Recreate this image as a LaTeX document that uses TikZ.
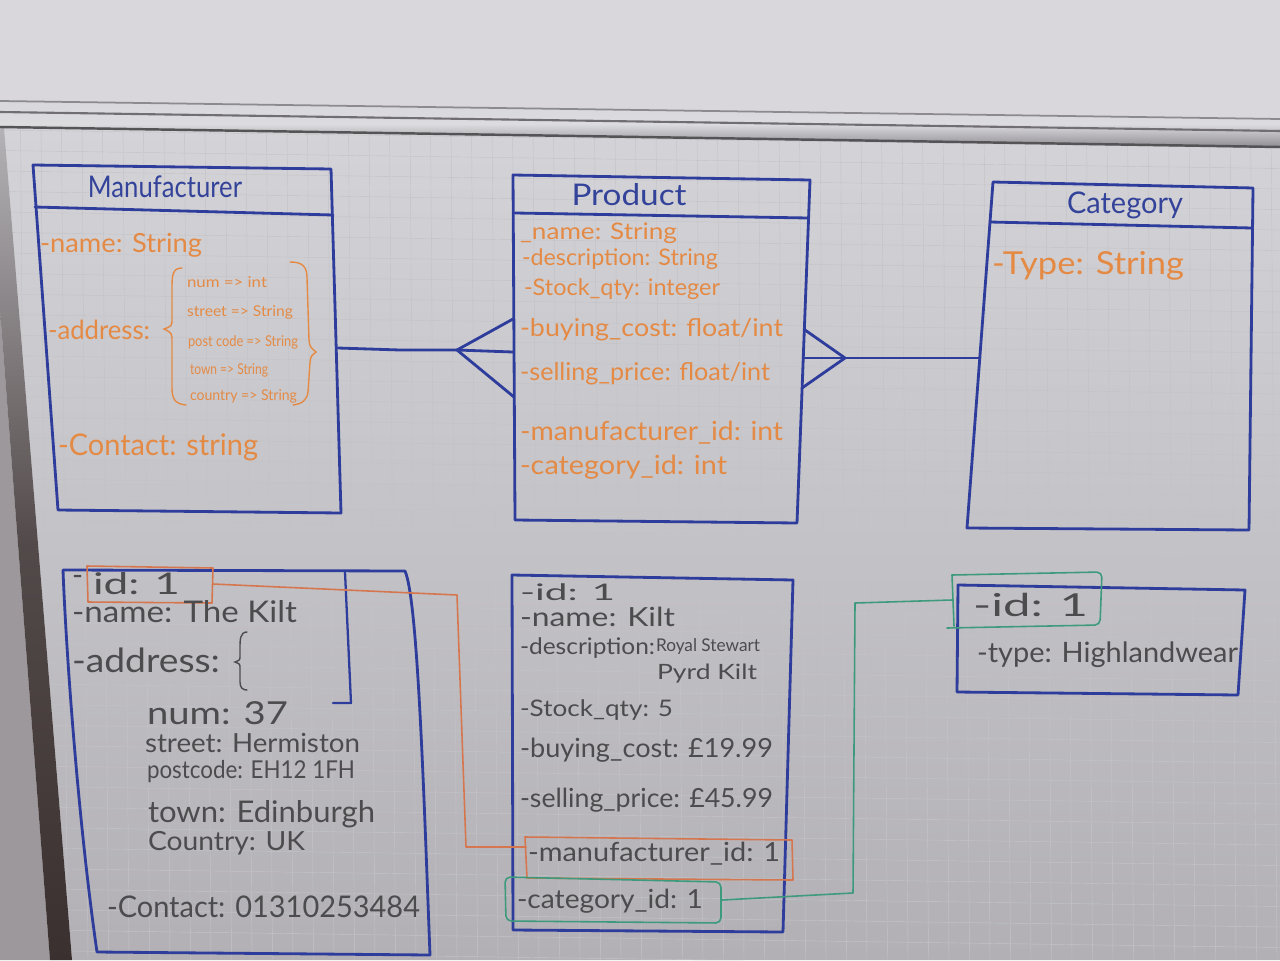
\documentclass[tikz,border=0pt]{standalone}
\usepackage{fontspec}
\usepackage{graphicx}
\setmainfont{Lato}
\definecolor{penblue}{HTML}{2E3C9C}
\definecolor{inkblue}{HTML}{34439A}
\definecolor{penorange}{HTML}{E48A45}
\definecolor{lineorange}{HTML}{D5764E}
\definecolor{pengreen}{HTML}{3E9A7C}
\definecolor{pengrey}{HTML}{4C4C4F}
\definecolor{boardtop}{HTML}{D4D4D8}
\definecolor{boardbot}{HTML}{B2B0B4}
\definecolor{wall}{HTML}{D9D7DC}
\definecolor{sidewall}{HTML}{9C989B}
\definecolor{frameband}{HTML}{3A302F}
\definecolor{frametop}{HTML}{B4B2B6}
\definecolor{gridline}{HTML}{C3C3C8}
\definecolor{railhi}{HTML}{D8D7DB}
\definecolor{raillo}{HTML}{8C8A8F}
\newlength\pxu
\setlength\pxu{0.02cm}
% stretch a piece of text horizontally to a given width (in pixel units)
\newcommand\fitto[2]{\resizebox{#1\pxu}{\height}{#2}}
\newcommand\fs[1]{\fontsize{#1}{#1}\selectfont}
\begin{document}
\begin{tikzpicture}[x=0.02cm,y=-0.02cm,
  pen/.style={draw=penblue,line width=1.6pt,line join=round,line cap=round},
  orangeline/.style={draw=lineorange,line width=0.9pt,line join=round,line cap=round},
  greenline/.style={draw=pengreen,line width=0.9pt,line join=round,line cap=round},
  txt/.style={anchor=west,inner sep=0pt,outer sep=0pt},
  attr/.style={txt,text=penorange,font=\fs{13}},
  small/.style={txt,text=penorange,font=\fs{8.5}},
  ink/.style={txt,text=pengrey,font=\fs{14}},
  title/.style={inner sep=0pt,text=inkblue,font=\fs{17}}]

\useasboundingbox (0,0) rectangle (1280,960);

% wall, board surface and frame
\fill[wall] (0,0) rectangle (1280,960);
\shade[top color=boardtop,bottom color=boardbot]
  (4,128) -- (1280,147) -- (1280,960) -- (72,960) -- cycle;
\begin{scope}
  \clip (4,128) -- (1280,147) -- (1280,960) -- (72,960) -- cycle;
  \foreach \i in {0,...,64}
    \draw[gridline,line width=0.25pt] (\i*20.5,120) -- (\i*20.5+6,960);
  \foreach \j in {0,...,42}
    \draw[gridline,line width=0.25pt] (0,130+\j*20.5) -- (1280,148+\j*20.5);
\end{scope}
\fill[sidewall] (0,310) -- (50,960) -- (0,960) -- cycle;
\shade[top color=frametop,bottom color=frameband,middle color=frameband!80!frametop]
  (-14,128) -- (4,128) -- (72,960) -- (50,960) -- cycle;
\shade[top color=railhi,bottom color=raillo,middle color=railhi!90!white]
  (0,100) -- (1280,118) -- (1280,148) -- (0,128) -- cycle;
\draw[raillo,line width=1pt] (0,101) -- (1280,119);
\draw[raillo!80!black,line width=1.2pt] (0,112) -- (1280,131);
\draw[raillo!60!black,line width=1.4pt] (0,127) -- (1280,147);

% ---------------- class: Manufacturer ----------------
\coordinate (m1) at (33,165); \coordinate (m2) at (331,169);
\coordinate (m3) at (341,513); \coordinate (m4) at (58,510);
\coordinate (ms1) at (35,207); \coordinate (ms2) at (333,215);
\draw[pen] (m1) -- (m2) -- (m3) -- (m4) -- cycle;
\draw[pen] (ms1) -- (ms2);
\node[title] (mtitle) at (165,187) {\fitto{154}{Manufacturer}};
\node[attr,font=\fs{15}] (mname) at (40,245) {\fitto{162}{-name: String}};
\node[attr,font=\fs{15}] (maddr) at (48,330) {\fitto{102}{-address:}};
\draw[penorange,line width=0.8pt,line cap=round]
  (182,268) .. controls (172,268) and (172,276) .. (172,290) -- (172,318)
  .. controls (172,326) .. (164,329) .. controls (172,333) .. (172,342)
  -- (172,388) .. controls (172,400) and (176,404) .. (186,405);
\node[small] (mnum) at (187,282) {\fitto{80}{num => int}};
\node[small] (mstreet) at (187,312) {\fitto{106}{street => String}};
\node[small] (mpost) at (188,342) {\fitto{110}{post code => String}};
\node[small] (mtown) at (190,370) {\fitto{78}{town => String}};
\node[small] (mcountry) at (190,396) {\fitto{107}{country => String}};
\draw[penorange,line width=0.8pt,line cap=round]
  (290,262) .. controls (302,262) and (307,266) .. (307,278) -- (309,340)
  .. controls (310,347) .. (316,352) .. controls (311,356) .. (310,362)
  -- (308,392) .. controls (307,400) and (302,404) .. (293,405);
\node[attr,font=\fs{17}] (mcontact) at (58,447) {\fitto{200}{-Contact: string}};

% ---------------- class: Product ----------------
\coordinate (p1) at (513,175); \coordinate (p2) at (810,180);
\coordinate (p3) at (797,523); \coordinate (p4) at (515,520);
\coordinate (ps1) at (515,213); \coordinate (ps2) at (808,218);
\draw[pen] (p1) -- (p2) -- (p3) -- (p4) -- cycle;
\draw[pen] (ps1) -- (ps2);
\node[title] (ptitle) at (629,195) {\fitto{115}{Product}};
\node[attr] (pname) at (520,233) {\fitto{157}{\_name: String}};
\node[attr] (pdesc) at (522,259) {\fitto{196}{-description: String}};
\node[attr] (pstock) at (524,289) {\fitto{196}{-Stock\_qty: integer}};
\node[attr,font=\fs{14}] (pbuy) at (520,330) {\fitto{263}{-buying\_cost: float/int}};
\node[attr,font=\fs{14}] (psell) at (520,374) {\fitto{250}{-selling\_price: float/int}};
\node[attr,font=\fs{15}] (pmid) at (520,433) {\fitto{263}{-manufacturer\_id: int}};
\node[attr,font=\fs{15}] (pcid) at (520,467) {\fitto{207}{-category\_id: int}};

% ---------------- class: Category ----------------
\coordinate (c1) at (993,182); \coordinate (c2) at (1253,188);
\coordinate (c3) at (1249,530); \coordinate (c4) at (967,528);
\coordinate (cs1) at (990,222); \coordinate (cs2) at (1252,228);
\draw[pen] (c1) -- (c2) -- (c3) -- (c4) -- cycle;
\draw[pen] (cs1) -- (cs2);
\node[title] (ctitle) at (1125,205) {\fitto{116}{Category}};
\node[attr,font=\fs{18}] (ctype) at (992,266) {\fitto{192}{-Type: String}};

% ---------------- associations (crow's feet at Product) ----------------
\coordinate (mR) at (338,348);
\coordinate (mpfoot) at (457,350);
\coordinate (pLa) at (513,319); \coordinate (pLb) at (513,352); \coordinate (pLc) at (514,397);
\draw[pen] (mR) -- (400,350) -- (mpfoot);
\draw[pen] (pLa) -- (mpfoot) -- (pLc);
\draw[pen] (mpfoot) -- (pLb);

\coordinate (pRa) at (805,330); \coordinate (pRb) at (803,358); \coordinate (pRc) at (802,388);
\coordinate (pcfoot) at (845,358);
\coordinate (cL) at (980,358);
\draw[pen] (pRa) -- (pcfoot) -- (pRc);
\draw[pen] (pRb) -- (cL);

% ---------------- object: manufacturer ----------------
\coordinate (mi1) at (63,570); \coordinate (mi2) at (405,571);
\coordinate (mi3) at (430,955); \coordinate (mi4) at (97,952);
\draw[pen] (mi1) -- (mi2) .. controls (418,600) and (424,800) .. (mi3)
  -- (mi4) .. controls (78,820) and (66,650) .. (mi1);
\draw[pen,line width=1.3pt] (345,572) -- (351,703) -- (333,703);
\coordinate (oid1) at (87,566); \coordinate (oid2) at (213,568);
\coordinate (oid3) at (212,603); \coordinate (oid4) at (88,602);
\draw[orangeline] (oid1) -- (oid2) -- (oid3) -- (oid4) -- cycle;
\coordinate (oidR) at (213,584);
\node[ink,font=\fs{17}] (midash) at (72,580) {\fitto{11}{-}};
\node[ink,font=\fs{17}] (miid) at (93,584) {\fitto{87}{id: 1}};
\node[ink,font=\fs{17}] (miname) at (72,612) {\fitto{225}{-name: The Kilt}};
\node[ink,font=\fs{19}] (miaddr) at (72,660) {\fitto{148}{-address:}};
\draw[pengrey,line width=0.8pt,line cap=round]
  (247,632) .. controls (240,632) and (240,640) .. (240,648) -- (240,656)
  .. controls (240,660) .. (235,662) .. controls (240,664) .. (240,668)
  -- (240,682) .. controls (240,688) and (243,690) .. (247,690);
\node[ink,font=\fs{18}] (minum) at (147,713) {\fitto{141}{num: 37}};
\node[ink,font=\fs{15}] (mistreet) at (145,743) {\fitto{215}{street: Hermiston}};
\node[ink,font=\fs{14}] (mipost) at (147,772) {\fitto{208}{postcode: EH12 1FH}};
\node[ink,font=\fs{17}] (mitown) at (148,814) {\fitto{227}{town: Edinburgh}};
\node[ink,font=\fs{15}] (micountry) at (148,843) {\fitto{157}{Country: UK}};
\node[ink,font=\fs{17}] (micontact) at (107,907) {\fitto{313}{-Contact: 01310253484}};

% ---------------- object: product ----------------
\coordinate (pi1) at (512,575); \coordinate (pi2) at (793,580);
\coordinate (pi3) at (783,932); \coordinate (pi4) at (513,930);
\draw[pen] (pi1) -- (pi2) -- (pi3) -- (pi4) -- cycle;
\node[ink,font=\fs{13}] (piid) at (520,592) {\fitto{95}{-id: 1}};
\node[ink,font=\fs{15}] (piname) at (520,617) {\fitto{155}{-name: Kilt}};
\node[ink,font=\fs{13}] (pidesc) at (520,648) {\fitto{135}{-description:}};
\node[ink,font=\fs{10}] (pidesc2) at (656,647) {\fitto{104}{Royal Stewart}};
\node[ink,font=\fs{12}] (pidesc3) at (657,674) {\fitto{100}{Pyrd Kilt}};
\node[ink,font=\fs{13}] (pistock) at (520,710) {\fitto{153}{-Stock\_qty: 5}};
\node[ink,font=\fs{15}] (pibuy) at (520,750) {\fitto{253}{-buying\_cost: £19.99}};
\node[ink,font=\fs{15}] (pisell) at (520,800) {\fitto{253}{-selling\_price: £45.99}};
\coordinate (om1) at (525,837); \coordinate (om2) at (792,840);
\coordinate (om3) at (793,880); \coordinate (om4) at (527,878);
\draw[orangeline] (om1) -- (om2) -- (om3) -- (om4) -- cycle;
\coordinate (omL) at (526,847);
\node[ink,font=\fs{15}] (pimid) at (528,854) {\fitto{252}{-manufacturer\_id: 1}};
\coordinate (gc1) at (505,877); \coordinate (gc2) at (721,882);
\coordinate (gc3) at (721,923); \coordinate (gc4) at (506,921);
\draw[greenline,rounded corners=3pt] (gc1) -- (gc2) -- (gc3) -- (gc4) -- cycle;
\coordinate (gcR) at (722,900);
\node[ink,font=\fs{15}] (picid) at (517,901) {\fitto{186}{-category\_id: 1}};

% ---------------- object: category ----------------
\coordinate (ci1) at (958,585); \coordinate (ci2) at (1245,590);
\coordinate (ci3) at (1238,695); \coordinate (ci4) at (957,692);
\draw[pen] (ci1) -- (ci2) -- (ci3) -- (ci4) -- cycle;
\coordinate (gi1) at (952,575); \coordinate (gi2) at (1102,572);
\coordinate (gi3) at (1100,625); \coordinate (gi4) at (947,628);
\draw[greenline,rounded corners=3pt] (gi1) -- (gi2) -- (gi3) -- (gi4);
\draw[greenline] (gi1) -- (954,626);
\coordinate (giL) at (952,600);
\node[ink,font=\fs{18}] (ciid) at (973,605) {\fitto{115}{-id: 1}};
\node[ink,font=\fs{16}] (citype) at (977,655) {\fitto{261}{-type: Highlandwear}};

% ---------------- key links between the objects ----------------
\coordinate (ob1) at (457,595); \coordinate (ob2) at (466,847);
\draw[orangeline] (oidR) -- (ob1) -- (ob2) -- (omL);
\coordinate (gb1) at (853,893); \coordinate (gb2) at (855,603);
\draw[greenline] (gcR) -- (gb1) -- (gb2) -- (giL);

\end{tikzpicture}
\end{document}
